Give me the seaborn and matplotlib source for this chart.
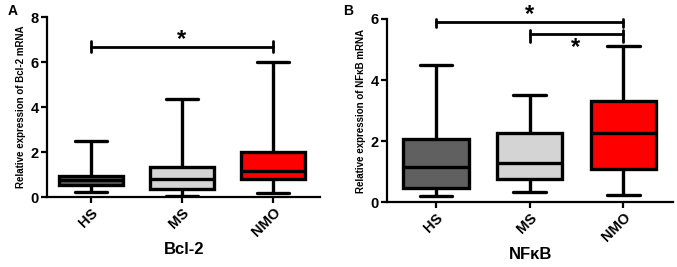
import matplotlib
matplotlib.use("Agg")
import matplotlib.pyplot as plt
import seaborn as sns
import pandas as pd

sns.set_theme(style="ticks")
plt.rcParams['font.family'] = ['Liberation Sans', 'DejaVu Sans']
plt.rcParams['font.weight'] = 'bold'
for k in ['text.color', 'axes.labelcolor', 'xtick.color', 'ytick.color', 'axes.edgecolor']:
    plt.rcParams[k] = 'black'

groups = ["HS", "MS", "NMO"]
colors = ["#606060", "#d4d4d4", "#ff0000"]

# five-number summaries: min, Q1, median, Q3, max
bcl2_hs = [0.22, 0.55, 0.75, 0.95, 2.5]
bcl2_ms = [0.05, 0.35, 0.8, 1.35, 4.35]
bcl2_nmo = [0.2, 0.8, 1.15, 2.0, 6.0]

nfkb_hs = [0.2, 0.45, 1.15, 2.07, 4.5]
nfkb_ms = [0.33, 0.75, 1.27, 2.27, 3.5]
nfkb_nmo = [0.22, 1.1, 2.27, 3.3, 5.1]


def frame(vals_list):
    rows = []
    for g, vals in zip(groups, vals_list):
        for v in vals:
            rows.append({"group": g, "value": v})
    return pd.DataFrame(rows)


fig = plt.figure(figsize=(6.77, 2.67), dpi=100)
axA = fig.add_axes([0.0694, 0.262, 0.404, 0.674])
axB = fig.add_axes([0.572, 0.243, 0.422, 0.686])


def draw(ax, df, ylim, yticks, ylabel, xlabel):
    sns.boxplot(data=df, x="group", y="value", hue="group", palette=colors,
                order=groups, hue_order=groups, legend=False, saturation=1,
                whis=(0, 100), width=0.7, linewidth=2.4, linecolor="black",
                showfliers=False, ax=ax)
    ax.set_ylim(*ylim)
    ax.set_yticks(yticks)
    ax.set_ylabel(ylabel, fontsize=7, fontweight="bold", labelpad=3)
    ax.set_xlabel(xlabel, fontsize=12, fontweight="bold", labelpad=2)
    for s in ["top", "right"]:
        ax.spines[s].set_visible(False)
    for s in ["left", "bottom"]:
        ax.spines[s].set_linewidth(1.6)
        ax.spines[s].set_color("black")
    ax.tick_params(axis="both", width=1.6, length=4, color="black",
                   labelsize=10.5, pad=2)
    for lab in ax.get_yticklabels():
        lab.set_fontweight("bold")
    for lab in ax.get_xticklabels():
        lab.set_fontweight("bold")
        lab.set_rotation(45)
        lab.set_ha("right")
        lab.set_rotation_mode("anchor")


def sig(ax, x0, x1, y, up, down):
    ax.plot([x0, x1], [y, y], color="black", lw=2, clip_on=False)
    for xx in (x0, x1):
        ax.plot([xx, xx], [y - down, y + up], color="black", lw=2, clip_on=False)


draw(axA, frame([bcl2_hs, bcl2_ms, bcl2_nmo]), (0, 8), [0, 2, 4, 6, 8],
     "Relative expression of Bcl-2 mRNA", "Bcl-2")
axA.set_xlim(-0.48, 2.52)
sig(axA, 0, 2, 6.68, 0.24, 0.24)
axA.text(1, 7.0, "*", ha="center", va="center", fontsize=17, fontweight="bold")

draw(axB, frame([nfkb_hs, nfkb_ms, nfkb_nmo]), (0, 6), [0, 2, 4, 6],
     "Relative expression of NF\u03baB mRNA", "NF\u03baB")
axB.set_xlim(-0.52, 2.53)
sig(axB, 0, 2, 5.91, 0.08, 0.17)
sig(axB, 1, 2, 5.5, 0.15, 0.25)
axB.text(1, 6.15, "*", ha="center", va="center", fontsize=17, fontweight="bold",
         clip_on=False)
axB.text(1.49, 5.05, "*", ha="center", va="center", fontsize=17, fontweight="bold")

fig.text(0.012, 0.96, "A", fontsize=10, fontweight="bold", va="center")
fig.text(0.507, 0.96, "B", fontsize=10, fontweight="bold", va="center")

fig.savefig("out.png", dpi=100)
